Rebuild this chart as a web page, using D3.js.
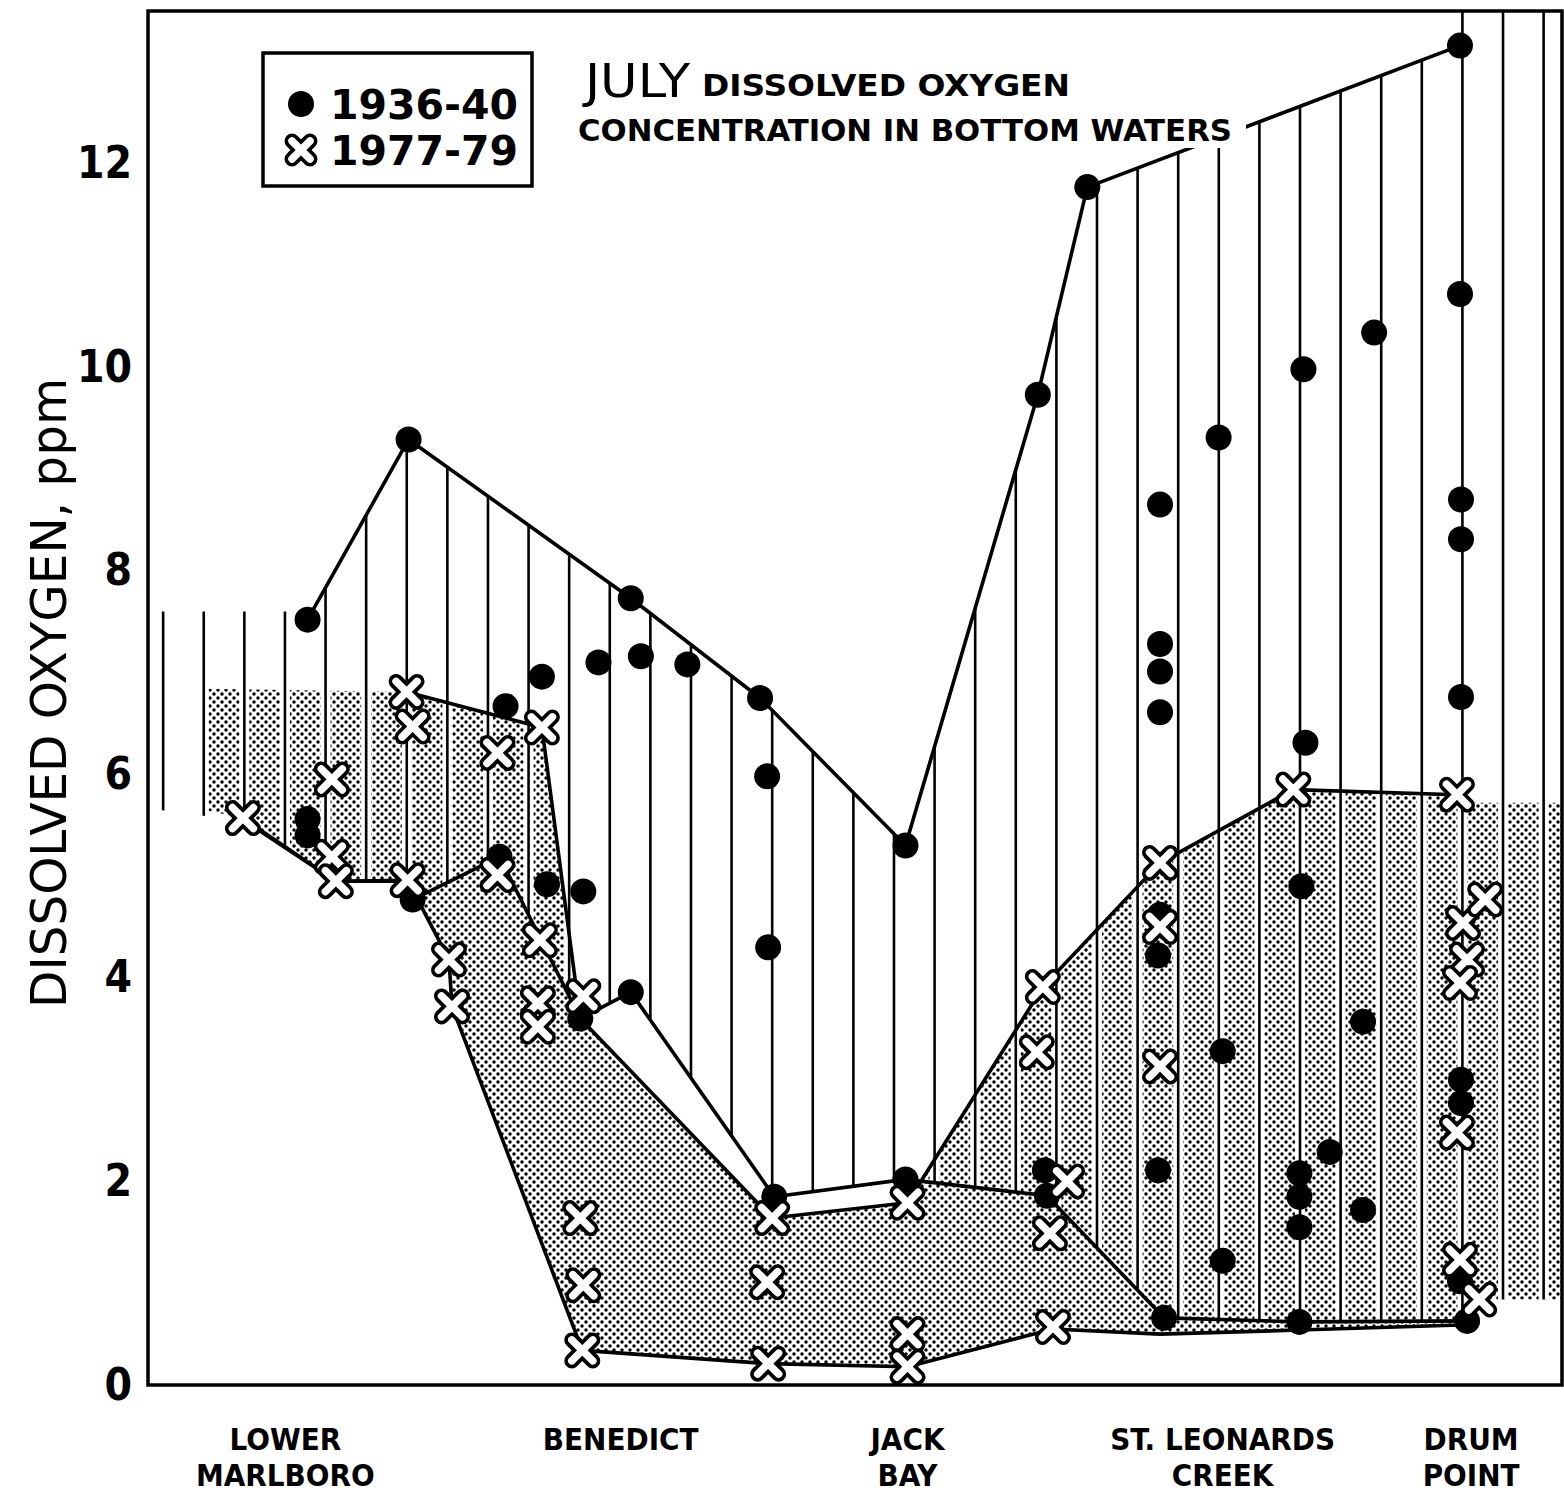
<!DOCTYPE html>
<html>
<head>
<meta charset="utf-8">
<script src="https://cdn.jsdelivr.net/npm/d3@7"></script>
<style>
  body { margin: 0; background: #fff; }
  svg { display: block; }
  text { font-family: "DejaVu Sans Condensed", "DejaVu Sans", sans-serif; font-stretch: condensed; fill: #000; }
</style>
</head>
<body>
<svg id="chart"></svg>
<script>
// Stations along the river (x = distance units downriver)
const stationNames = [["LOWER", "MARLBORO"], ["BENEDICT"], ["JACK", "BAY"], ["ST. LEONARDS", "CREEK"], ["DRUM", "POINT"]];
const stationPos = [6.8, 23.4, 37.6, 53.2, 65.5];
const yTicks = [0, 2, 4, 6, 8, 10, 12];

// 1936-40 observations [distance, ppm]
const dots1936 = [
  [7.9, 7.52], [7.9, 5.56], [7.9, 5.40],
  [12.9, 9.29], [13.1, 4.77],
  [17.4, 5.19], [17.7, 6.67],
  [19.5, 6.96], [19.75, 4.92],
  [21.4, 3.6], [21.55, 4.85],
  [22.3, 7.1], [23.9, 7.73], [24.4, 7.16], [23.9, 3.86],
  [26.7, 7.08],
  [30.3, 6.75], [30.65, 5.98], [30.7, 4.30], [31.0, 1.85],
  [37.5, 5.30], [37.5, 2.02],
  [44.05, 9.73], [44.4, 2.11], [44.5, 1.86],
  [46.5, 11.77],
  [50.1, 8.65], [50.1, 7.28], [50.1, 7.01], [50.1, 6.61], [50.1, 4.62], [50.0, 4.22], [50.0, 2.11], [50.3, 0.66],
  [53.0, 9.31], [53.2, 3.28], [53.2, 1.22],
  [57.2, 9.98], [57.3, 6.31], [57.1, 4.90], [57.0, 2.08], [57.0, 1.85], [57.0, 1.55], [57.0, 0.62],
  [58.5, 2.29],
  [60.15, 3.57], [60.15, 1.72],
  [60.7, 10.34],
  [64.95, 13.16], [64.95, 10.72], [65.0, 8.70], [65.0, 8.31], [65.0, 6.76], [65.0, 3.0], [65.0, 2.77], [64.95, 1.02], [65.3, 0.63]
];

// 1977-79 observations [distance, ppm]
const crosses1977 = [
  [4.7, 5.57],
  [9.1, 5.95], [9.1, 5.19], [9.3, 4.95],
  [12.8, 6.81], [13.1, 6.47], [12.85, 4.96],
  [14.9, 4.18], [15.05, 3.72],
  [17.3, 6.21], [17.3, 5.01],
  [19.5, 6.46], [19.4, 4.37], [19.3, 3.75], [19.3, 3.52],
  [21.55, 3.82], [21.4, 1.64], [21.55, 0.98], [21.5, 0.34],
  [30.9, 1.64], [30.65, 1.01], [30.7, 0.21],
  [37.6, 1.79], [37.6, 0.5], [37.6, 0.18],
  [44.3, 3.91], [44.0, 3.27], [45.5, 2.0], [44.65, 1.49], [44.8, 0.57],
  [50.1, 5.13], [50.1, 4.5], [50.1, 3.13],
  [56.7, 5.85],
  [64.8, 5.80], [65.1, 4.54], [65.3, 4.18], [64.95, 3.95], [64.8, 2.48], [64.95, 1.23], [65.9, 0.84], [66.2, 4.77]
];

// envelope lines
const max1936 = [[7.9, 7.52], [12.9, 9.29], [23.9, 7.73], [30.3, 6.75], [37.5, 5.30], [44.05, 9.73], [46.5, 11.77], [64.95, 13.16]];
const min1936 = [[4.8, 5.54], [9.3, 4.95], [12.77, 4.95], [13.1, 4.77], [17.4, 5.19], [21.4, 3.6], [23.9, 3.86], [31.0, 1.85], [37.5, 2.02], [44.5, 1.86], [50.3, 0.66], [57.0, 0.62], [65.3, 0.63]];
const max1977 = [[12.8, 6.81], [19.5, 6.46], [21.4, 3.6], [30.9, 1.64], [37.6, 1.79], [44.3, 3.91], [50.1, 5.13], [56.7, 5.85], [64.8, 5.80]];
const min1977 = [[4.7, 5.57], [9.3, 4.95], [12.85, 4.96], [14.9, 4.18], [15.05, 3.72], [21.5, 0.34], [30.7, 0.21], [37.6, 0.18], [44.8, 0.55], [50.1, 0.5], [57.0, 0.54], [64.95, 0.59], [65.9, 0.84]];

// band extensions beyond the end stations
const hatchTopLeft = [[0.6, 7.6], [7.9, 7.6]];
const hatchTopRight = [[64.95, 13.5], [70, 13.5]];
const hatchBottomLeft = [[0.6, 5.65]];
const hatchBottomRight = [[65.9, 0.84], [70, 0.84]];
const stippleTopLeft = [[2.8, 6.84]];
const stippleTopRight = [[65.0, 5.72], [70, 5.72]];
const stippleBottomLeft = [[2.8, 5.65]];
const stippleBottomRight = [[70, 0.84]];

const width = 1564, height = 1493;
const svg = d3.select("#chart").attr("width", width).attr("height", height);

const x = d3.scaleLinear().domain([0, 70]).range([148, 1562]);
const y = d3.scaleLinear().domain([0, 13.5]).range([1385, 11]);

const line = d3.line().x(d => x(d[0])).y(d => y(d[1]));
const polygon = (top, bottom) => line(top.concat(bottom.slice().reverse())) + "Z";

const hatchTop = hatchTopLeft.concat(max1936, hatchTopRight);
const hatchBottom = hatchBottomLeft.concat(min1936, hatchBottomRight);
const stippleTop = stippleTopLeft.concat(max1977, stippleTopRight);
const stippleBottom = stippleBottomLeft.concat(min1977, stippleBottomRight);

const defs = svg.append("defs");
const pat = defs.append("pattern")
  .attr("id", "stipple")
  .attr("width", 8).attr("height", 8)
  .attr("patternUnits", "userSpaceOnUse");
pat.append("circle").attr("cx", 2).attr("cy", 2).attr("r", 1.75).attr("fill", "#000");
pat.append("circle").attr("cx", 6).attr("cy", 6).attr("r", 1.75).attr("fill", "#000");

defs.append("clipPath").attr("id", "hatchClip")
  .append("path").attr("d", polygon(hatchTop, hatchBottom));

// stippled band 1977-79
svg.append("path")
  .attr("d", polygon(stippleTop, stippleBottom))
  .attr("fill", "url(#stipple)");

// vertical hatching 1936-40
const hatchX = d3.range(0.75, 70, 2.01);
const hatch = svg.append("g").attr("clip-path", "url(#hatchClip)");
hatch.selectAll("line.halo")
  .data(hatchX).enter().append("line")
  .attr("class", "halo")
  .attr("x1", d => x(d)).attr("x2", d => x(d))
  .attr("y1", y(0)).attr("y2", y(13.5))
  .attr("stroke", "#fff").attr("stroke-width", 10);
hatch.selectAll("line.hl")
  .data(hatchX).enter().append("line")
  .attr("class", "hl")
  .attr("x1", d => x(d)).attr("x2", d => x(d))
  .attr("y1", y(0)).attr("y2", y(13.5))
  .attr("stroke", "#000").attr("stroke-width", 2.6);

// envelope lines
[max1936, min1936, max1977, min1977].forEach(s => {
  svg.append("path")
    .attr("d", line(s))
    .attr("fill", "none")
    .attr("stroke", "#000")
    .attr("stroke-width", 3.6)
    .attr("stroke-linejoin", "round");
});

// markers
function drawCross(g, cx, cy, s) {
  const c = g.append("g").attr("transform", `translate(${cx},${cy})`);
  const arms = [[-s, -s, s, s], [-s, s, s, -s]];
  arms.forEach(a => {
    c.append("line").attr("x1", a[0]).attr("y1", a[1]).attr("x2", a[2]).attr("y2", a[3])
      .attr("stroke", "#000").attr("stroke-width", 15).attr("stroke-linecap", "round");
  });
  arms.forEach(a => {
    c.append("line").attr("x1", a[0]).attr("y1", a[1]).attr("x2", a[2]).attr("y2", a[3])
      .attr("stroke", "#fff").attr("stroke-width", 7.5).attr("stroke-linecap", "round");
  });
}

svg.append("g").selectAll("circle")
  .data(dots1936).enter().append("circle")
  .attr("cx", d => x(d[0])).attr("cy", d => y(d[1]))
  .attr("r", 13).attr("fill", "#000");

const crossG = svg.append("g");
crosses1977.forEach(d => drawCross(crossG, x(d[0]), y(d[1]), 10.5));

// frame
svg.append("rect")
  .attr("x", x(0)).attr("y", y(13.5))
  .attr("width", x(70) - x(0)).attr("height", y(0) - y(13.5))
  .attr("fill", "none").attr("stroke", "#000").attr("stroke-width", 3.5);

// y axis
const yAxis = svg.append("g")
  .attr("transform", `translate(${x(0)},0)`)
  .call(d3.axisLeft(y).tickValues(yTicks).tickSize(0).tickPadding(16).tickFormat(d3.format("d")));
yAxis.select(".domain").remove();
yAxis.selectAll("text")
  .style("font-family", "'DejaVu Sans Condensed', 'DejaVu Sans', sans-serif")
  .style("font-size", "44px").style("font-weight", "bold");

svg.append("text")
  .attr("transform", `translate(66,${y(6.8)}) rotate(-90)`)
  .attr("text-anchor", "middle")
  .attr("textLength", 630).attr("lengthAdjust", "spacingAndGlyphs")
  .style("font-size", "50px")
  .text("DISSOLVED OXYGEN, ppm");

// station labels
stationNames.forEach((lines, i) => {
  lines.forEach((t, j) => {
    svg.append("text")
      .attr("x", x(stationPos[i])).attr("y", 1450 + j * 36)
      .attr("text-anchor", "middle")
      .style("font-size", "31px").style("font-weight", "bold")
      .text(t);
  });
});

// legend
const lg = svg.append("g");
lg.append("rect").attr("x", 263).attr("y", 53).attr("width", 269).attr("height", 133)
  .attr("fill", "#fff").attr("stroke", "#000").attr("stroke-width", 3.5);
lg.append("circle").attr("cx", 301).attr("cy", 104).attr("r", 13).attr("fill", "#000");
drawCross(lg, 301, 150, 9);
lg.append("text").attr("x", 330).attr("y", 119).style("font-size", "41px").style("font-weight", "bold")
  .attr("textLength", 188).attr("lengthAdjust", "spacingAndGlyphs").text("1936-40");
lg.append("text").attr("x", 330).attr("y", 165).style("font-size", "41px").style("font-weight", "bold")
  .attr("textLength", 188).attr("lengthAdjust", "spacingAndGlyphs").text("1977-79");

// title
const tg = svg.append("g");
tg.append("rect").attr("x", 572).attr("y", 112).attr("width", 674).attr("height", 36).attr("fill", "#fff");
tg.append("text").attr("x", 585).attr("y", 97).style("font-size", "46px")
  .attr("textLength", 105).attr("lengthAdjust", "spacingAndGlyphs").text("JULY");
tg.append("text").attr("x", 702).attr("y", 96).style("font-size", "30px").style("font-weight", "bold")
  .attr("textLength", 368).attr("lengthAdjust", "spacingAndGlyphs").text("DISSOLVED OXYGEN");
tg.append("text").attr("x", 578).attr("y", 141).style("font-size", "31px").style("font-weight", "bold")
  .attr("textLength", 654).attr("lengthAdjust", "spacingAndGlyphs").text("CONCENTRATION IN BOTTOM WATERS");
</script>
</body>
</html>
